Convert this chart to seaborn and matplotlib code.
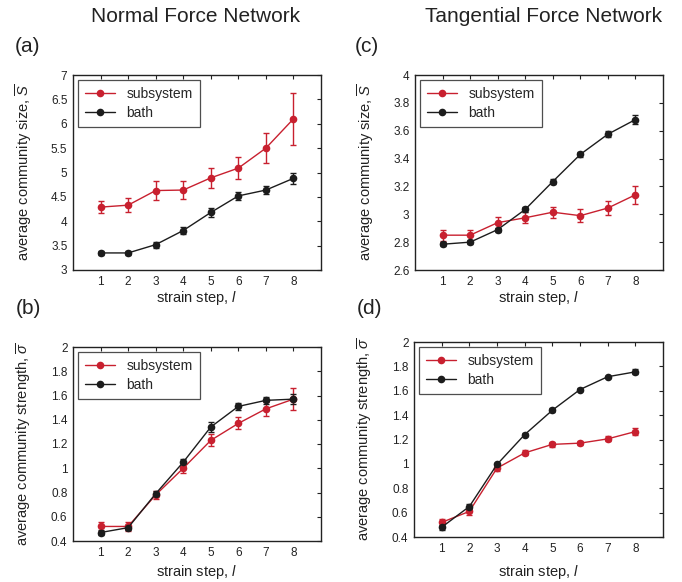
import numpy as np
import pandas as pd
import matplotlib
matplotlib.use("Agg")
import matplotlib.pyplot as plt
import seaborn as sns

# strain steps
steps = [1, 2, 3, 4, 5, 6, 7, 8]

# (a) normal force network: average community size
a_sub = [4.29, 4.33, 4.63, 4.64, 4.89, 5.09, 5.50, 6.10]
a_sub_err = [0.13, 0.15, 0.20, 0.19, 0.20, 0.22, 0.31, 0.53]
a_bath = [3.35, 3.35, 3.52, 3.81, 4.18, 4.52, 4.64, 4.88]
a_bath_err = [0.05, 0.05, 0.06, 0.08, 0.09, 0.09, 0.09, 0.11]

# (b) normal force network: average community strength
b_sub = [0.52, 0.52, 0.78, 1.00, 1.23, 1.37, 1.49, 1.57]
b_sub_err = [0.04, 0.035, 0.035, 0.04, 0.05, 0.05, 0.06, 0.09]
b_bath = [0.47, 0.51, 0.79, 1.05, 1.34, 1.51, 1.56, 1.57]
b_bath_err = [0.02, 0.02, 0.02, 0.03, 0.04, 0.03, 0.03, 0.04]

# (c) tangential force network: average community size
c_sub = [2.85, 2.85, 2.94, 2.975, 3.015, 2.99, 3.045, 3.14]
c_sub_err = [0.04, 0.04, 0.04, 0.04, 0.04, 0.045, 0.05, 0.065]
c_bath = [2.785, 2.80, 2.89, 3.035, 3.235, 3.43, 3.575, 3.68]
c_bath_err = [0.015, 0.015, 0.015, 0.02, 0.02, 0.02, 0.02, 0.03]

# (d) tangential force network: average community strength
d_sub = [0.52, 0.61, 0.965, 1.09, 1.16, 1.17, 1.205, 1.265]
d_sub_err = [0.03, 0.03, 0.02, 0.02, 0.02, 0.015, 0.02, 0.03]
d_bath = [0.48, 0.65, 0.995, 1.24, 1.44, 1.61, 1.715, 1.755]
d_bath_err = [0.02, 0.02, 0.015, 0.01, 0.015, 0.015, 0.01, 0.02]

series_names = ["subsystem", "bath"]
RED = "#c8202f"
BLACK = "#1c1c1c"

sns.set_theme(style="white")
plt.rcParams["font.family"] = ["Liberation Sans", "DejaVu Sans"]
plt.rcParams["mathtext.fontset"] = "custom"
plt.rcParams["mathtext.rm"] = "Liberation Sans"
plt.rcParams["mathtext.it"] = "Liberation Sans:italic"

fig = plt.figure(figsize=(6.82, 5.82), dpi=100)

W = 248 / 682
panels = {
    "a": dict(rect=[73 / 682, 1 - 270 / 582, W, 195 / 582], sub=a_sub, sub_err=a_sub_err,
              bath=a_bath, bath_err=a_bath_err, ylim=(3, 7),
              yticks=[3, 3.5, 4, 4.5, 5, 5.5, 6, 6.5, 7],
              ylabel=r"average community size, $\overline{S}$", xlab_y=-0.145),
    "c": dict(rect=[415 / 682, 1 - 270 / 582, W, 195 / 582], sub=c_sub, sub_err=c_sub_err,
              bath=c_bath, bath_err=c_bath_err, ylim=(2.6, 4),
              yticks=[2.6, 2.8, 3, 3.2, 3.4, 3.6, 3.8, 4],
              ylabel=r"average community size, $\overline{S}$", xlab_y=-0.145),
    "b": dict(rect=[73 / 682, 1 - 541 / 582, W, 194 / 582], sub=b_sub, sub_err=b_sub_err,
              bath=b_bath, bath_err=b_bath_err, ylim=(0.4, 2),
              yticks=[0.4, 0.6, 0.8, 1, 1.2, 1.4, 1.6, 1.8, 2],
              ylabel=r"average community strength, $\overline{\sigma}$", xlab_y=-0.16),
    "d": dict(rect=[414 / 682, 1 - 537 / 582, W + 1 / 682, 195 / 582], sub=d_sub, sub_err=d_sub_err,
              bath=d_bath, bath_err=d_bath_err, ylim=(0.4, 2),
              yticks=[0.4, 0.6, 0.8, 1, 1.2, 1.4, 1.6, 1.8, 2],
              ylabel=r"average community strength, $\overline{\sigma}$", xlab_y=-0.18),
}


def fmt_tick(v):
    s = f"{v:.1f}"
    return s[:-2] if s.endswith(".0") else s


for key, p in panels.items():
    ax = fig.add_axes(p["rect"])
    df = pd.DataFrame({
        "step": steps * 2,
        "value": p["sub"] + p["bath"],
        "series": [series_names[0]] * len(steps) + [series_names[1]] * len(steps),
    })
    sns.lineplot(data=df, x="step", y="value", hue="series",
                 palette={"subsystem": RED, "bath": BLACK},
                 marker="o", markersize=5.5, markeredgewidth=0, linewidth=1.0,
                 ax=ax, legend=True)
    ax.errorbar(steps, p["sub"], yerr=p["sub_err"], fmt="none", ecolor=RED,
                elinewidth=1.0, capsize=2.0, capthick=1.0, zorder=1)
    ax.errorbar(steps, p["bath"], yerr=p["bath_err"], fmt="none", ecolor=BLACK,
                elinewidth=1.0, capsize=2.0, capthick=1.0, zorder=1)

    ax.set_xlim(0, 9)
    ax.set_ylim(*p["ylim"])
    ax.set_xticks(steps)
    ax.set_xticklabels([str(s) for s in steps])
    ax.set_yticks(p["yticks"])
    ax.set_yticklabels([fmt_tick(v) for v in p["yticks"]])
    ax.tick_params(direction="in", top=True, right=True, length=3, width=0.8,
                   labelsize=8.5, colors="#222222", pad=4)
    for sp in ax.spines.values():
        sp.set_visible(True)
        sp.set_color("#222222")
        sp.set_linewidth(1.0)

    ax.set_xlabel(r"strain step, $\mathit{l}$", fontsize=10.5, color="#222222",
                  va="center")
    ax.xaxis.set_label_coords(0.5, p["xlab_y"])
    ax.set_ylabel(p["ylabel"], fontsize=10.5, color="#222222", va="center")
    ax.yaxis.set_label_coords(-0.198, 0.5)

    handles, labels = ax.get_legend_handles_labels()
    leg = ax.legend(handles, labels, loc="upper left", bbox_to_anchor=(0.02, 0.975),
                    fontsize=10, frameon=True, fancybox=False, borderpad=0.5,
                    handlelength=2.2, handletextpad=0.8, labelspacing=0.35,
                    borderaxespad=0)
    leg.get_frame().set_edgecolor("#222222")
    leg.get_frame().set_linewidth(0.9)

# column titles and panel labels
fig.text(196 / 682, 1 - 16 / 582, "Normal Force Network", ha="center", va="center",
         fontsize=15, color="#222222")
fig.text(544 / 682, 1 - 16 / 582, "Tangential Force Network", ha="center", va="center",
         fontsize=15, color="#222222")
for lab, x, y in [("(a)", 27, 47), ("(c)", 367, 47), ("(b)", 28, 309), ("(d)", 369, 309)]:
    fig.text(x / 682, 1 - y / 582, lab, ha="center", va="center", fontsize=15,
             color="#222222")

fig.savefig("out.png", dpi=100, facecolor="white")
